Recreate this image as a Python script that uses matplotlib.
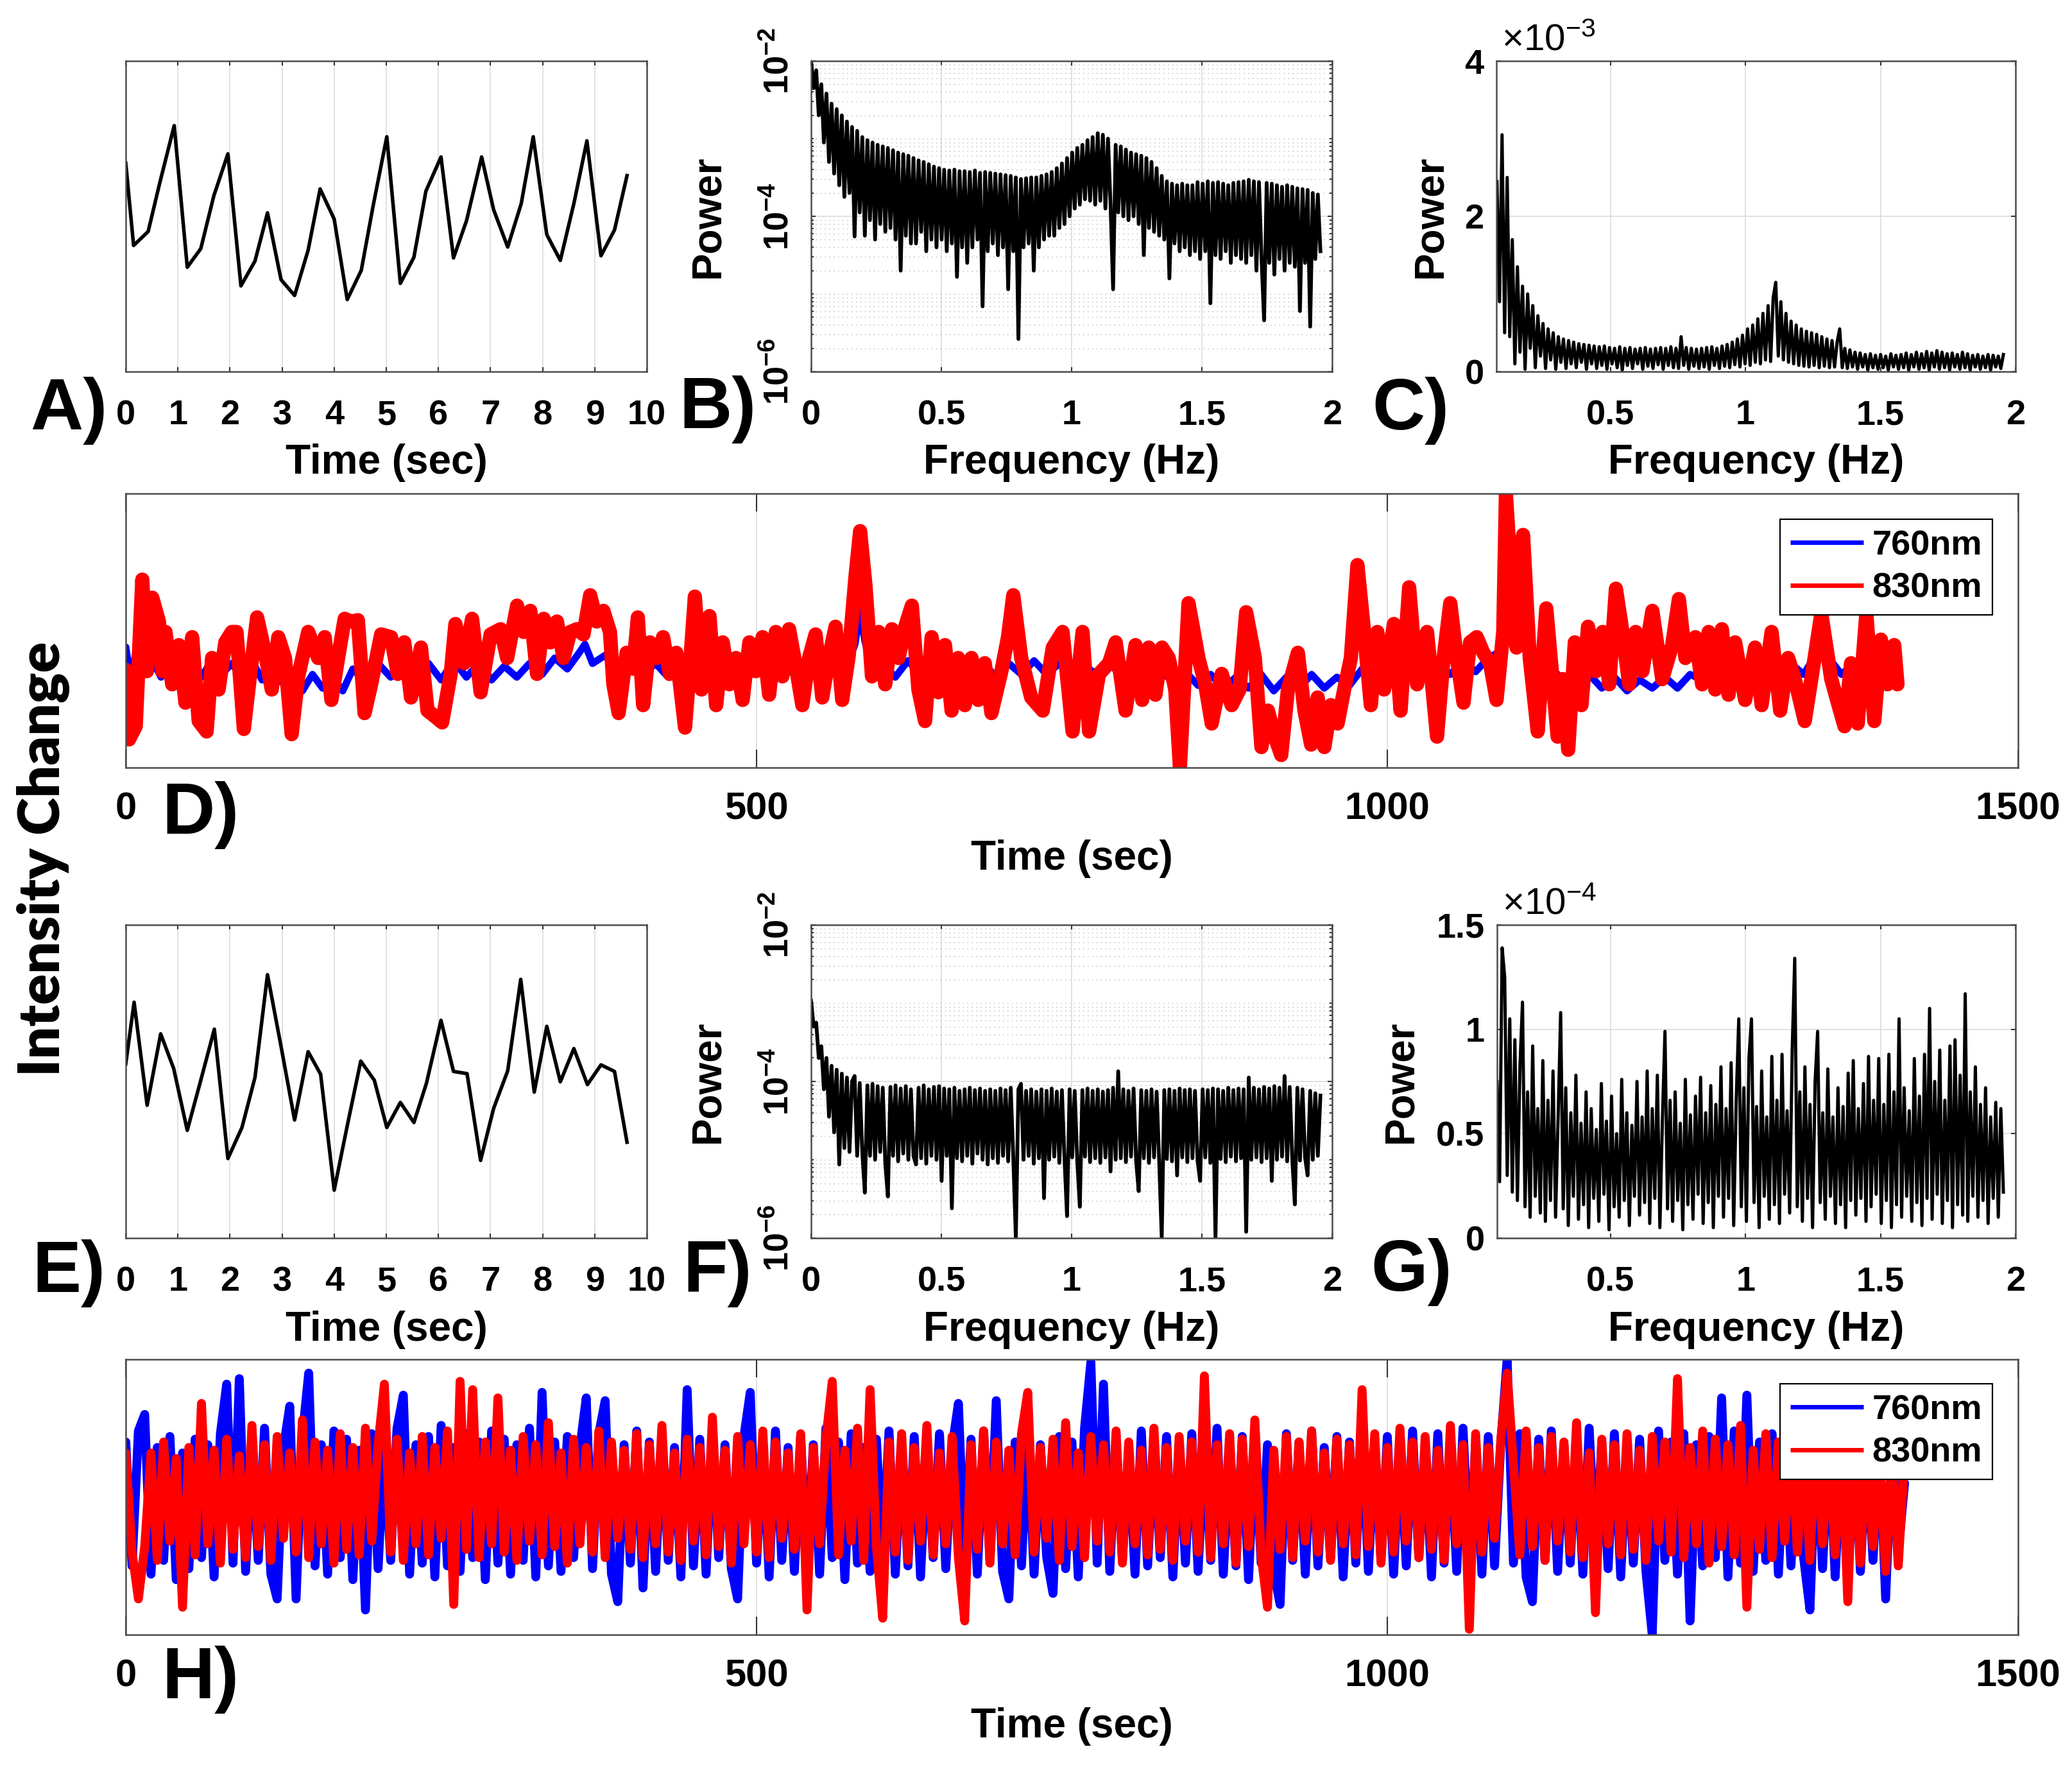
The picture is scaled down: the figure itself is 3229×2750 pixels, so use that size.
import numpy as np
import matplotlib
matplotlib.use('Agg')
import matplotlib.pyplot as plt
from matplotlib.ticker import FixedLocator, FixedFormatter, LogLocator, NullFormatter

plt.rcParams['font.family'] = ['Liberation Sans', 'DejaVu Sans']
plt.rcParams['font.weight'] = 'bold'
plt.rcParams['mathtext.fontset'] = 'custom'
plt.rcParams['mathtext.default'] = 'regular'

# ---- A) / E) short raw segments (normalised intensity) ----
a_time = [0.0, 0.15, 0.43, 0.65, 0.93, 1.18, 1.44, 1.69, 1.96, 2.21, 2.48, 2.72, 2.98,
          3.24, 3.50, 3.73, 4.00, 4.25, 4.52, 4.75, 5.01, 5.27, 5.53, 5.76, 6.05, 6.29,
          6.54, 6.83, 7.06, 7.33, 7.59, 7.82, 8.08, 8.34, 8.60, 8.85, 9.12, 9.38, 9.62]
a_signal = [0.671, 0.406, 0.451, 0.606, 0.792, 0.336, 0.396, 0.566, 0.701, 0.276, 0.356,
            0.511, 0.296, 0.245, 0.391, 0.588, 0.491, 0.232, 0.326, 0.536, 0.756, 0.284,
            0.368, 0.581, 0.691, 0.366, 0.486, 0.691, 0.521, 0.401, 0.541, 0.756, 0.441,
            0.358, 0.541, 0.743, 0.373, 0.456, 0.631]
e_time = [0.0, 0.16, 0.41, 0.67, 0.92, 1.18, 1.44, 1.70, 1.96, 2.23, 2.48, 2.72, 2.98,
          3.24, 3.50, 3.74, 4.00, 4.25, 4.51, 4.77, 5.01, 5.27, 5.53, 5.77, 6.05, 6.29,
          6.55, 6.81, 7.06, 7.33, 7.58, 7.84, 8.08, 8.34, 8.60, 8.86, 9.12, 9.38, 9.62]
e_signal = [0.556, 0.753, 0.424, 0.652, 0.541, 0.344, 0.504, 0.667, 0.254, 0.353, 0.513,
            0.841, 0.612, 0.377, 0.595, 0.523, 0.153, 0.358, 0.565, 0.504, 0.353, 0.433,
            0.369, 0.494, 0.695, 0.532, 0.525, 0.248, 0.414, 0.534, 0.826, 0.466, 0.676,
            0.499, 0.605, 0.490, 0.553, 0.532, 0.306]

# ---- B) / F) power spectra, log10(power), 0 - 1.955 Hz ----
b_log_power = [
    -2.00, -2.35, -2.12, -2.70, -2.30, -3.05, -2.42, -3.30, -2.55, -3.45,
    -2.62, -3.60, -2.70, -3.75, -2.78, -3.70, -2.85, -4.26, -2.90, -3.95,
    -2.98, -4.25, -3.02, -4.05, -3.05, -4.30, -3.08, -4.10, -3.10, -4.20,
    -3.12, -4.15, -3.15, -4.30, -3.18, -4.70, -3.20, -4.25, -3.22, -4.35,
    -3.25, -4.35, -3.28, -4.20, -3.30, -4.45, -3.33, -4.30, -3.36, -4.40,
    -3.38, -4.30, -3.40, -4.45, -3.41, -4.35, -3.40, -4.78, -3.42, -4.40,
    -3.42, -4.60, -3.43, -4.40, -3.41, -4.30, -3.44, -5.16, -3.43, -4.45,
    -3.44, -4.35, -3.45, -4.50, -3.46, -4.40, -3.47, -4.94, -3.48, -4.45,
    -3.50, -5.58, -3.52, -4.40, -3.51, -4.35, -3.50, -4.70, -3.50, -4.40,
    -3.48, -4.30, -3.46, -4.25, -3.43, -4.25, -3.38, -4.15, -3.32, -4.10,
    -3.25, -4.00, -3.18, -3.90, -3.12, -3.85, -3.08, -3.78, -3.02, -3.80,
    -2.98, -3.85, -2.93, -3.80, -2.95, -3.90, -3.00, -3.85, -4.94, -3.08,
    -3.95, -3.10, -4.00, -3.14, -4.05, -3.18, -4.00, -3.20, -4.10, -3.22,
    -4.50, -3.25, -4.15, -3.30, -4.20, -3.38, -4.25, -3.48, -4.30, -3.55,
    -4.80, -3.58, -4.35, -3.60, -4.45, -3.58, -4.40, -3.60, -4.50, -3.60,
    -4.45, -3.56, -4.55, -3.58, -4.45, -3.55, -5.12, -3.57, -4.50, -3.56,
    -4.55, -3.58, -4.45, -3.60, -4.60, -3.57, -4.50, -3.56, -4.55, -3.55,
    -4.60, -3.53, -4.50, -3.55, -4.70, -3.56, -4.55, -5.34, -3.57, -4.60,
    -3.58, -4.75, -3.60, -4.55, -3.62, -4.70, -3.60, -4.60, -3.62, -4.65,
    -3.64, -5.22, -3.65, -4.60, -3.66, -5.42, -3.70, -4.55, -3.72, -4.45]
f_log_power = [
    -2.97, -3.30, -3.25, -3.70, -3.55, -4.10, -3.70, -4.45, -3.80, -4.65,
    -3.85, -5.06, -3.90, -4.85, -3.95, -4.90, -4.00, -3.93, -4.95, -4.02,
    -4.90, -5.42, -4.05, -4.95, -4.03, -5.00, -4.06, -4.90, -4.08, -5.05,
    -5.47, -4.07, -4.95, -4.05, -5.02, -4.09, -4.92, -4.06, -5.00, -4.10,
    -4.95, -5.06, -4.08, -4.98, -4.05, -5.05, -4.10, -4.95, -4.07, -5.00,
    -4.06, -5.27, -4.09, -4.95, -4.10, -5.62, -4.08, -4.98, -4.12, -5.02,
    -4.10, -4.95, -4.08, -5.05, -4.11, -4.92, -4.09, -5.00, -4.12, -5.06,
    -4.10, -4.98, -4.12, -5.04, -4.09, -4.95, -4.11, -5.02, -4.08, -4.97,
    -6.00, -4.10, -4.03, -5.00, -4.12, -4.95, -4.10, -5.05, -4.13, -4.98,
    -4.10, -5.49, -4.12, -5.00, -4.09, -4.96, -4.13, -5.04, -4.11, -4.98,
    -5.72, -4.10, -4.97, -4.12, -5.02, -5.60, -4.11, -4.96, -4.09, -5.03,
    -4.12, -4.98, -4.10, -5.04, -4.13, -4.97, -4.11, -5.15, -4.08, -5.00,
    -3.87, -4.98, -4.10, -5.03, -4.12, -4.96, -4.09, -5.02, -5.40, -4.11,
    -4.98, -4.12, -5.04, -4.10, -4.97, -4.13, -5.01, -6.00, -4.11, -4.99,
    -4.10, -5.02, -4.12, -5.20, -4.09, -4.97, -4.11, -5.03, -4.10, -4.98,
    -4.12, -5.01, -5.27, -4.10, -4.97, -4.11, -5.04, -4.09, -6.00, -4.10,
    -4.99, -4.12, -5.03, -4.08, -4.96, -4.11, -5.02, -4.09, -4.98, -4.10,
    -5.92, -3.95, -5.00, -4.08, -4.97, -4.10, -5.03, -4.07, -4.98, -4.09,
    -5.27, -4.06, -5.00, -4.08, -4.96, -3.93, -5.02, -4.07, -4.99, -5.57,
    -4.08, -5.01, -4.10, -4.97, -5.20, -4.12, -5.00, -4.15, -4.95, -4.18]

# ---- C) power x1e-3, G) power x1e-4, 0.08 - 1.955 Hz ----
c_power = [
    2.45, 0.90, 3.05, 0.50, 2.50, 0.45, 1.70, 0.10, 1.35, 0.25,
    1.10, 0.03, 1.00, 0.30, 0.85, 0.05, 0.72, 0.20, 0.62, 0.04,
    0.55, 0.15, 0.50, 0.03, 0.45, 0.12, 0.42, 0.04, 0.40, 0.10,
    0.38, 0.05, 0.36, 0.12, 0.35, 0.03, 0.34, 0.10, 0.33, 0.04,
    0.32, 0.08, 0.33, 0.03, 0.31, 0.10, 0.30, 0.05, 0.32, 0.02,
    0.30, 0.08, 0.31, 0.04, 0.29, 0.10, 0.30, 0.03, 0.31, 0.07,
    0.29, 0.04, 0.30, 0.09, 0.31, 0.03, 0.30, 0.08, 0.32, 0.05,
    0.30, 0.04, 0.45, 0.08, 0.31, 0.03, 0.30, 0.07, 0.29, 0.04,
    0.30, 0.06, 0.31, 0.03, 0.32, 0.08, 0.30, 0.04, 0.33, 0.07,
    0.35, 0.05, 0.38, 0.09, 0.42, 0.06, 0.47, 0.10, 0.55, 0.08,
    0.60, 0.12, 0.68, 0.10, 0.75, 0.15, 0.85, 0.13, 0.95, 1.15,
    0.20, 0.90, 0.15, 0.75, 0.12, 0.65, 0.10, 0.60, 0.08, 0.55,
    0.07, 0.52, 0.06, 0.50, 0.08, 0.48, 0.05, 0.45, 0.07, 0.42,
    0.05, 0.40, 0.06, 0.38, 0.55, 0.05, 0.30, 0.04, 0.28, 0.06,
    0.25, 0.03, 0.24, 0.06, 0.22, 0.02, 0.23, 0.05, 0.21, 0.03,
    0.22, 0.05, 0.20, 0.02, 0.23, 0.06, 0.21, 0.03, 0.22, 0.05,
    0.24, 0.02, 0.22, 0.06, 0.25, 0.03, 0.23, 0.05, 0.26, 0.02,
    0.24, 0.06, 0.27, 0.03, 0.25, 0.05, 0.23, 0.02, 0.24, 0.06,
    0.22, 0.03, 0.25, 0.05, 0.23, 0.02, 0.21, 0.06, 0.22, 0.03,
    0.20, 0.05, 0.22, 0.02, 0.21, 0.06, 0.20, 0.04, 0.22]
g_power = [
    0.75, 0.27, 1.39, 1.25, 0.30, 1.05, 0.22, 0.95, 0.18, 0.82,
    1.13, 0.15, 0.70, 0.10, 0.92, 0.20, 0.62, 0.12, 0.85, 0.08,
    0.66, 0.18, 0.80, 0.10, 0.58, 1.08, 0.14, 0.72, 0.06, 0.60,
    0.20, 0.78, 0.09, 0.55, 0.16, 0.70, 0.05, 0.62, 0.19, 0.52,
    0.08, 0.74, 0.21, 0.56, 0.04, 0.68, 0.15, 0.50, 0.10, 0.76,
    0.18, 0.60, 0.06, 0.54, 0.20, 0.75, 0.11, 0.58, 0.17, 0.80,
    0.07, 0.62, 0.19, 0.78, 0.05, 0.57, 0.99, 0.14, 0.66, 0.08,
    0.70, 0.18, 0.55, 0.04, 0.76, 0.16, 0.59, 0.09, 0.68, 0.21,
    0.77, 0.07, 0.60, 0.17, 0.73, 0.05, 0.64, 0.20, 0.82, 0.10,
    0.62, 0.19, 0.84, 0.06, 0.66, 1.05, 0.15, 0.72, 0.08, 0.86,
    1.05, 0.17, 0.63, 0.05, 0.80, 0.20, 0.58, 0.09, 0.87, 0.16,
    0.66, 0.07, 0.88, 0.21, 0.61, 0.12, 0.90, 1.34, 0.15, 0.70,
    0.08, 0.82, 0.19, 0.64, 0.05, 0.75, 0.99, 0.17, 0.60, 0.09,
    0.81, 0.20, 0.58, 0.07, 0.72, 0.16, 0.63, 0.05, 0.79, 0.18,
    0.85, 0.11, 0.62, 0.19, 0.74, 0.08, 0.87, 0.15, 0.66, 0.21,
    0.86, 0.07, 0.64, 0.18, 0.88, 0.05, 0.70, 0.16, 1.05, 0.10,
    0.72, 0.20, 0.61, 0.08, 0.86, 0.17, 0.68, 0.06, 0.88, 0.19,
    1.10, 0.09, 0.75, 0.21, 0.90, 0.07, 0.66, 0.18, 0.92, 0.05,
    0.95, 0.16, 0.78, 0.11, 1.17, 0.08, 0.70, 0.20, 0.82, 0.10,
    0.64, 0.18, 0.72, 0.07, 0.58, 0.19, 0.65, 0.10, 0.62, 0.22]

# ---- D) long recording, normalised intensity ----
d_t830 = [0.0, 2.6, 7.9, 13.1, 16.8, 21.0, 26.3, 28.9, 31.5, 36.8,
          42.1, 47.3, 52.6, 57.8, 64.1, 68.4, 73.6, 78.9, 84.1, 87.8,
          93.6, 98.9, 104.1, 110.4, 115.7, 120.9, 126.2, 131.5, 136.7, 144.6,
          152.5, 157.7, 163.0, 168.3, 173.5, 178.8, 184.0, 189.3, 194.5, 202.4,
          210.3, 215.6, 220.8, 226.1, 234.0, 239.2, 244.5, 250.8, 257.6, 261.3,
          268.2, 274.5, 281.3, 289.2, 297.1, 302.3, 310.2, 315.5, 320.7, 326.0,
          331.3, 336.5, 341.8, 347.0, 352.3, 357.5, 362.8, 368.1, 373.3, 378.6,
          383.8, 386.5, 390.7, 397.0, 402.2, 405.9, 410.1, 415.4, 420.6, 425.9,
          431.2, 436.4, 443.3, 446.9, 451.1, 456.4, 462.7, 468.0, 473.2, 478.5,
          483.7, 489.0, 494.3, 499.5, 504.8, 510.0, 515.3, 520.5, 525.8, 531.1,
          536.3, 541.6, 546.8, 552.1, 557.3, 562.6, 567.9, 573.1, 578.4, 582.1,
          586.3, 591.5, 596.8, 602.0, 607.3, 612.6, 617.8, 623.1, 628.3, 633.6,
          638.8, 644.1, 649.4, 654.6, 659.9, 665.1, 670.4, 675.7, 680.9, 686.2,
          694.1, 699.3, 703.5, 709.8, 717.7, 726.9, 734.8, 742.6, 750.5, 758.4,
          763.6, 771.5, 779.4, 784.7, 792.5, 800.4, 805.7, 810.9, 816.2, 821.4,
          826.7, 831.9, 835.6, 842.4, 850.3, 855.6, 860.8, 868.7, 876.6, 882.9,
          888.1, 895.0, 900.2, 905.4, 910.7, 915.9, 921.2, 929.1, 934.3, 939.6,
          944.8, 950.1, 955.3, 960.6, 965.8, 971.1, 976.3, 981.6, 986.9, 992.1,
          997.4, 1005.2, 1010.5, 1017.3, 1023.6, 1031.5, 1039.4, 1044.6, 1049.9, 1055.1,
          1060.4, 1065.6, 1070.9, 1076.1, 1081.4, 1086.6, 1091.9, 1094.0, 1098.2, 1102.4,
          1107.6, 1112.9, 1119.2, 1126.0, 1131.3, 1135.0, 1139.2, 1143.4, 1148.6, 1153.9,
          1159.1, 1165.4, 1170.7, 1175.9, 1181.2, 1186.4, 1191.7, 1196.9, 1202.2, 1210.1,
          1217.9, 1225.8, 1231.1, 1236.3, 1244.2, 1249.5, 1254.7, 1260.0, 1265.2, 1270.5,
          1275.7, 1283.6, 1291.5, 1296.7, 1304.6, 1311.4, 1317.7, 1323.0, 1330.9, 1338.7,
          1344.0, 1351.9, 1357.1, 1362.4, 1367.6, 1372.9, 1379.7, 1386.0, 1391.3, 1396.5,
          1401.8, 1404.4]
d_830 = [0.357, 0.103, 0.151, 0.686, 0.352, 0.620, 0.533, 0.352, 0.495, 0.304,
         0.447, 0.237, 0.476, 0.170, 0.132, 0.400, 0.285, 0.457, 0.495, 0.495,
         0.141, 0.352, 0.548, 0.419, 0.285, 0.476, 0.400, 0.122, 0.333, 0.495,
         0.400, 0.476, 0.247, 0.400, 0.543, 0.533, 0.538, 0.199, 0.304, 0.486,
         0.476, 0.342, 0.457, 0.256, 0.438, 0.208, 0.189, 0.165, 0.342, 0.524,
         0.381, 0.543, 0.275, 0.486, 0.505, 0.400, 0.591, 0.495, 0.572, 0.342,
         0.543, 0.457, 0.533, 0.400, 0.495, 0.505, 0.486, 0.629, 0.533, 0.572,
         0.495, 0.304, 0.199, 0.419, 0.361, 0.548, 0.228, 0.457, 0.400, 0.476,
         0.342, 0.419, 0.146, 0.352, 0.624, 0.285, 0.553, 0.228, 0.457, 0.304,
         0.400, 0.247, 0.457, 0.352, 0.476, 0.266, 0.495, 0.333, 0.505, 0.371,
         0.228, 0.400, 0.486, 0.256, 0.400, 0.514, 0.247, 0.409, 0.696, 0.863,
         0.667, 0.333, 0.495, 0.304, 0.505, 0.400, 0.514, 0.591, 0.285, 0.170,
         0.476, 0.275, 0.447, 0.208, 0.400, 0.228, 0.400, 0.247, 0.381, 0.199,
         0.352, 0.476, 0.629, 0.400, 0.256, 0.208, 0.438, 0.495, 0.132, 0.495,
         0.132, 0.342, 0.381, 0.457, 0.208, 0.447, 0.247, 0.438, 0.266, 0.438,
         0.400, 0.285, 0.000, 0.600, 0.400, 0.304, 0.161, 0.342, 0.228, 0.285,
         0.567, 0.400, 0.075, 0.208, 0.113, 0.046, 0.285, 0.419, 0.208, 0.084,
         0.256, 0.075, 0.228, 0.161, 0.285, 0.400, 0.739, 0.495, 0.228, 0.495,
         0.285, 0.524, 0.208, 0.658, 0.304, 0.495, 0.113, 0.400, 0.600, 0.400,
         0.237, 0.457, 0.476, 0.419, 0.381, 0.247, 0.495, 1.000, 0.686, 0.438,
         0.849, 0.400, 0.132, 0.581, 0.304, 0.113, 0.323, 0.065, 0.457, 0.228,
         0.514, 0.352, 0.495, 0.304, 0.653, 0.495, 0.304, 0.495, 0.352, 0.572,
         0.323, 0.447, 0.615, 0.400, 0.476, 0.304, 0.495, 0.285, 0.505, 0.266,
         0.457, 0.247, 0.438, 0.228, 0.495, 0.208, 0.400, 0.323, 0.170, 0.400,
         0.562, 0.323, 0.237, 0.151, 0.381, 0.161, 0.562, 0.170, 0.467, 0.304,
         0.447, 0.304]
d_t760 = [0, 4, 8, 14, 20, 28, 36, 44, 52, 60,
          68, 76, 84, 92, 100, 108, 116, 124, 132, 140,
          148, 156, 164, 172, 180, 190, 200, 210, 220, 230,
          240, 250, 260, 270, 280, 290, 300, 310, 320, 330,
          340, 350, 358, 364, 370, 380, 390, 400, 410, 420,
          430, 440, 450, 460, 470, 480, 490, 500, 510, 520,
          530, 540, 550, 560, 570, 578, 582, 586, 592, 600,
          610, 620, 630, 640, 650, 660, 670, 680, 690, 700,
          710, 720, 730, 740, 750, 760, 770, 780, 790, 800,
          810, 820, 830, 840, 850, 860, 870, 880, 890, 900,
          910, 920, 930, 940, 950, 960, 970, 980, 990, 1000,
          1010, 1020, 1030, 1040, 1050, 1060, 1070, 1080, 1088, 1094,
          1100, 1108, 1114, 1120, 1130, 1140, 1150, 1160, 1170, 1180,
          1190, 1200, 1210, 1220, 1230, 1240, 1250, 1260, 1270, 1280,
          1290, 1300, 1310, 1320, 1330, 1338, 1344, 1350, 1360, 1370,
          1380, 1390, 1398, 1404]
d_760 = [0.44, 0.32, 0.42, 0.34, 0.40, 0.33, 0.41, 0.34, 0.40, 0.33,
         0.39, 0.34, 0.38, 0.33, 0.39, 0.32, 0.37, 0.31, 0.35, 0.28,
         0.34, 0.29, 0.33, 0.28, 0.36, 0.31, 0.38, 0.33, 0.39, 0.33,
         0.38, 0.32, 0.39, 0.33, 0.38, 0.32, 0.37, 0.33, 0.38, 0.34,
         0.40, 0.36, 0.41, 0.45, 0.38, 0.41, 0.35, 0.39, 0.34, 0.38,
         0.33, 0.38, 0.34, 0.39, 0.33, 0.38, 0.34, 0.39, 0.33, 0.38,
         0.34, 0.39, 0.33, 0.38, 0.35, 0.45, 0.57, 0.46, 0.34, 0.38,
         0.33, 0.39, 0.34, 0.38, 0.33, 0.39, 0.34, 0.38, 0.33, 0.38,
         0.34, 0.39, 0.34, 0.38, 0.33, 0.37, 0.34, 0.38, 0.33, 0.37,
         0.33, 0.36, 0.31, 0.35, 0.30, 0.34, 0.29, 0.33, 0.29, 0.34,
         0.28, 0.33, 0.29, 0.34, 0.29, 0.33, 0.30, 0.36, 0.32, 0.38,
         0.34, 0.39, 0.34, 0.38, 0.34, 0.39, 0.35, 0.40, 0.42, 0.62,
         0.46, 0.55, 0.43, 0.40, 0.36, 0.32, 0.30, 0.34, 0.29, 0.33,
         0.28, 0.32, 0.29, 0.33, 0.29, 0.34, 0.32, 0.37, 0.33, 0.38,
         0.33, 0.37, 0.33, 0.38, 0.34, 0.40, 0.52, 0.40, 0.34, 0.38,
         0.33, 0.37, 0.34, 0.40]

# ---- H) long recording, second subject (5 s steps, 0 - 1410 s) ----
h_760 = [
    0.70, 0.25, 0.74, 0.80, 0.22, 0.68, 0.27, 0.72, 0.20, 0.66, 0.24, 0.71, 0.28, 0.69, 0.21, 0.73, 0.91, 0.26, 0.93, 0.23,
    0.70, 0.27, 0.75, 0.22, 0.13, 0.68, 0.83, 0.13, 0.72, 0.95, 0.25, 0.69, 0.22, 0.74, 0.28, 0.71, 0.20, 0.67, 0.09, 0.73,
    0.24, 0.70, 0.27, 0.75, 0.87, 0.22, 0.69, 0.26, 0.72, 0.21, 0.76, 0.25, 0.68, 0.23, 0.73, 0.28, 0.70, 0.20, 0.74, 0.26,
    0.71, 0.22, 0.69, 0.27, 0.75, 0.21, 0.88, 0.25, 0.70, 0.23, 0.72, 0.28, 0.68, 0.86, 0.24, 0.73, 0.85, 0.22, 0.12, 0.69,
    0.26, 0.74, 0.17, 0.70, 0.23, 0.72, 0.27, 0.68, 0.21, 0.89, 0.25, 0.71, 0.22, 0.75, 0.28, 0.69, 0.24, 0.13, 0.72, 0.88,
    0.26, 0.70, 0.21, 0.74, 0.27, 0.68, 0.23, 0.72, 0.25, 0.69, 0.22, 0.75, 0.28, 0.70, 0.20, 0.73, 0.26, 0.68, 0.23, 0.71,
    0.27, 0.74, 0.22, 0.69, 0.25, 0.72, 0.21, 0.70, 0.28, 0.73, 0.24, 0.68, 0.84, 0.26, 0.71, 0.22, 0.74, 0.27, 0.85, 0.23,
    0.13, 0.70, 0.25, 0.73, 0.22, 0.69, 0.28, 0.15, 0.72, 0.24, 0.70, 0.21, 0.75, 0.99, 0.26, 0.91, 0.23, 0.71, 0.27, 0.68,
    0.22, 0.74, 0.25, 0.70, 0.28, 0.72, 0.21, 0.69, 0.26, 0.73, 0.23, 0.70, 0.27, 0.75, 0.22, 0.68, 0.25, 0.72, 0.20, 0.71,
    0.26, 0.69, 0.23, 0.11, 0.73, 0.27, 0.70, 0.22, 0.74, 0.25, 0.68, 0.28, 0.72, 0.21, 0.70, 0.26, 0.75, 0.23, 0.69, 0.27,
    0.72, 0.22, 0.70, 0.25, 0.74, 0.28, 0.68, 0.21, 0.73, 0.26, 0.71, 0.23, 0.75, 0.27, 0.69, 0.22, 0.72, 0.25, 0.70, 1.00,
    0.26, 0.73, 0.21, 0.12, 0.71, 0.27, 0.74, 0.23, 0.69, 0.26, 0.72, 0.22, 0.75, 0.28, 0.70, 0.24, 0.73, 0.21, 0.68, 0.26,
    0.71, 0.23, 0.00, 0.74, 0.27, 0.70, 0.22, 0.73, 0.05, 0.69, 0.25, 0.72, 0.28, 0.86, 0.21, 0.74, 0.26, 0.87, 0.23, 0.70,
    0.27, 0.73, 0.22, 0.69, 0.25, 0.74, 0.28, 0.09, 0.71, 0.24, 0.72, 0.21, 0.70, 0.26, 0.75, 0.23, 0.68, 0.27, 0.72, 0.13,
    0.70, 0.30, 0.55]
h_830 = [
    0.66, 0.30, 0.13, 0.32, 0.66, 0.27, 0.70, 0.34, 0.64, 0.10, 0.68, 0.29, 0.84, 0.33, 0.67, 0.26, 0.71, 0.31, 0.65, 0.28,
    0.76, 0.32, 0.69, 0.27, 0.72, 0.35, 0.66, 0.30, 0.78, 0.28, 0.70, 0.33, 0.67, 0.26, 0.73, 0.31, 0.68, 0.29, 0.75, 0.34,
    0.69, 0.91, 0.30, 0.71, 0.27, 0.66, 0.33, 0.72, 0.29, 0.68, 0.35, 0.74, 0.11, 0.92, 0.31, 0.89, 0.28, 0.70, 0.33, 0.86,
    0.30, 0.67, 0.27, 0.72, 0.34, 0.69, 0.29, 0.77, 0.32, 0.66, 0.26, 0.71, 0.33, 0.68, 0.30, 0.74, 0.28, 0.70, 0.35, 0.67,
    0.31, 0.73, 0.28, 0.69, 0.33, 0.76, 0.30, 0.66, 0.27, 0.71, 0.34, 0.68, 0.29, 0.79, 0.32, 0.67, 0.26, 0.72, 0.33, 0.69,
    0.30, 0.74, 0.28, 0.70, 0.35, 0.66, 0.31, 0.73, 0.09, 0.68, 0.33, 0.71, 0.92, 0.29, 0.67, 0.34, 0.75, 0.27, 0.89, 0.32,
    0.06, 0.70, 0.30, 0.73, 0.27, 0.68, 0.34, 0.76, 0.29, 0.66, 0.33, 0.72, 0.28, 0.05, 0.69, 0.31, 0.74, 0.26, 0.70, 0.33,
    0.67, 0.29, 0.73, 0.88, 0.30, 0.68, 0.35, 0.71, 0.27, 0.77, 0.32, 0.66, 0.28, 0.72, 0.34, 0.69, 0.30, 0.74, 0.26, 0.70,
    0.33, 0.67, 0.29, 0.75, 0.31, 0.68, 0.27, 0.72, 0.34, 0.70, 0.30, 0.94, 0.28, 0.69, 0.33, 0.73, 0.26, 0.71, 0.32, 0.78,
    0.29, 0.10, 0.67, 0.31, 0.72, 0.28, 0.70, 0.34, 0.74, 0.30, 0.66, 0.27, 0.71, 0.33, 0.69, 0.29, 0.89, 0.32, 0.73, 0.26,
    0.68, 0.30, 0.75, 0.34, 0.70, 0.28, 0.72, 0.31, 0.67, 0.27, 0.76, 0.33, 0.69, 0.02, 0.73, 0.30, 0.68, 0.35, 0.71, 0.95,
    0.62, 0.29, 0.74, 0.32, 0.68, 0.27, 0.72, 0.34, 0.70, 0.30, 0.77, 0.28, 0.66, 0.08, 0.71, 0.33, 0.69, 0.29, 0.73, 0.31,
    0.67, 0.27, 0.72, 0.34, 0.70, 0.30, 0.93, 0.28, 0.68, 0.33, 0.74, 0.26, 0.71, 0.32, 0.69, 0.29, 0.76, 0.10, 0.67, 0.31,
    0.73, 0.28, 0.70, 0.34, 0.72, 0.30, 0.68, 0.27, 0.74, 0.33, 0.69, 0.29, 0.71, 0.12, 0.75, 0.26, 0.70, 0.32, 0.66, 0.23,
    0.68, 0.25, 0.64]

SPINE = '0.3'
W, H = 3229, 2750
fig = plt.figure(figsize=(W / 100, H / 100), dpi=100)


def add_axes(x0, y0, x1, y1):
    # pixel box (from top-left) -> figure fraction
    return fig.add_axes([x0 / W, 1 - y1 / H, (x1 - x0) / W, (y1 - y0) / H])


def style(ax, tlen=5, lsize=39, xpad=31, ypad=15):
    for s in ax.spines.values():
        s.set_color(SPINE)
        s.set_linewidth(1.8)
    ax.tick_params(which='both', direction='in', top=True, right=True,
                   color='0.2', width=1.5, length=tlen, labelsize=lsize)
    ax.tick_params(which='minor', length=tlen * 0.55)
    ax.tick_params(axis='x', pad=xpad)
    ax.tick_params(axis='y', pad=ypad)
    ax.set_axisbelow(True)


def xlabel(ax, text, y):
    ax.set_xlabel(text, fontsize=46, fontweight='bold')
    ax.xaxis.set_label_coords(0.5, y)
    ax.xaxis.label.set_va('center')


def ylabel(ax, x):
    ax.set_ylabel('Power', fontsize=46, fontweight='bold')
    ax.yaxis.set_label_coords(x, 0.5)
    ax.yaxis.label.set_va('center')


freq_ticks = [0, 0.5, 1, 1.5, 2]
freq_labels = ['0', '0.5', '1', '1.5', '2']


def short_panel(box, t, y):
    ax = add_axes(*box)
    ax.plot(t, y, color='black', lw=4)
    ax.set_xlim(0, 10)
    ax.set_ylim(0, 1)
    ax.set_xticks(range(11))
    ax.set_yticks([])
    ax.grid(axis='x', color='0.86', lw=1.2)
    style(ax)
    xlabel(ax, 'Time (sec)', -0.293)
    return ax


def log_panel(box, logp):
    ax = add_axes(*box)
    fr = np.linspace(0, 1.955, len(logp))
    ax.semilogy(fr, 10.0 ** np.array(logp), color='black', lw=4.2,
                solid_joinstyle='round')
    ax.set_xlim(0, 2)
    ax.set_ylim(1e-6, 1e-2)
    ax.set_xticks(freq_ticks)
    ax.set_xticklabels(freq_labels)
    ax.yaxis.set_major_locator(FixedLocator([1e-6, 1e-4, 1e-2]))
    ax.yaxis.set_major_formatter(FixedFormatter([r'$10^{-6}$', r'$10^{-4}$', r'$10^{-2}$']))
    ax.yaxis.set_minor_locator(LogLocator(base=10, subs=np.arange(1, 10), numticks=30))
    ax.yaxis.set_minor_formatter(NullFormatter())
    ax.grid(which='major', color='0.86', lw=1.2)
    ax.grid(which='minor', axis='y', color='0.7', lw=1.0, linestyle=(0, (1, 4)))
    style(ax, ypad=18)
    ax.tick_params(axis='y', labelrotation=90)
    xlabel(ax, 'Frequency (Hz)', -0.293)
    ylabel(ax, -0.198)
    return ax


def lin_panel(box, p, xlo, ymax, yticks, ylabels, expo, ylab_x):
    ax = add_axes(*box)
    fr = np.linspace(0.08, 1.955, len(p))
    ax.plot(fr, p, color='black', lw=3.6, solid_joinstyle='round')
    ax.set_xlim(xlo, 2)
    ax.set_ylim(0, ymax)
    ax.set_xticks(freq_ticks[1:])
    ax.set_xticklabels(freq_labels[1:])
    ax.set_yticks(yticks)
    ax.set_yticklabels(ylabels)
    ax.grid(color='0.86', lw=1.2)
    style(ax, ypad=14)
    ax.text(0.01, 1.035, expo, transform=ax.transAxes, fontsize=42,
            fontweight='normal', va='baseline', ha='left')
    xlabel(ax, 'Frequency (Hz)', -0.293)
    ylabel(ax, ylab_x)
    return ax


def long_panel(box, t760, y760, t830, y830, lw760, lw830, legend_top):
    ax = add_axes(*box)
    kw = dict(solid_joinstyle='round', solid_capstyle='round')
    ax.plot(t760, y760, color='#0000ff', lw=lw760, label='760nm', **kw)
    ax.plot(t830, y830, color='#ff0000', lw=lw830, label='830nm', **kw)
    ax.set_xlim(0, 1500)
    ax.set_ylim(0, 1)
    ax.set_xticks([0, 500, 1000, 1500])
    ax.set_yticks([])
    ax.grid(axis='x', color='0.86', lw=1.2)
    style(ax, tlen=20, lsize=43, xpad=27)
    leg = ax.legend(loc='upper right', bbox_to_anchor=(0.9864, legend_top), fontsize=39,
                    fancybox=False, edgecolor='black', framealpha=1, borderaxespad=0,
                    handlelength=2.1, handletextpad=0.25, labelspacing=0.3, borderpad=0.3)
    leg.get_frame().set_linewidth(1.6)
    for ln in leg.get_lines():
        ln.set_linewidth(5)
        ln.set_solid_capstyle('butt')
    xlabel(ax, 'Time (sec)', -0.333)
    return ax


short_panel((196, 95, 1008, 579), a_time, a_signal)
axB = log_panel((1264, 95, 2076, 579), b_log_power)
lin_panel((2332, 95, 3141, 579), c_power, 0.078, 4, [0, 2, 4], ['0', '2', '4'],
          r'×10$^{-3}$', -0.127)
long_panel((196, 769, 3145, 1196), d_t760, d_760, d_t830, d_830, 8, 16, 0.906)

short_panel((196, 1441, 1008, 1929), e_time, e_signal)
axF = log_panel((1264, 1441, 2076, 1929), f_log_power)
lin_panel((2333, 1441, 3141, 1929), g_power, 0.08, 1.5, [0, 0.5, 1, 1.5],
          ['0', '0.5', '1', '1.5'], r'×10$^{-4}$', -0.185)
h_time760 = np.linspace(0, 1410, len(h_760))
h_time830 = np.linspace(0, 1410, len(h_830))
long_panel((196, 2118, 3145, 2547), h_time760, h_760, h_time830, h_830, 10, 10, 0.911)

# panel letters
for letter, x, y in [('A)', 107, 669), ('B)', 1118, 667), ('C)', 2198, 669),
                     ('D)', 312, 1299), ('E)', 107, 2013), ('F)', 1118, 2013),
                     ('G)', 2200, 2011), ('H)', 312, 2646)]:
    fig.text(x / W, 1 - y / H, letter, fontsize=82, fontweight='bold',
             ha='center', va='baseline')

fig.text(68 / W, 1 - 1338 / H, 'Intensity Change', rotation=90, fontsize=64,
         family=['Lato', 'DejaVu Sans'], fontweight='heavy', ha='center', va='center')

fig.canvas.draw()
for ax in (axB, axF):
    for tk in ax.yaxis.get_major_ticks():
        tk.label1.set_va('center')

fig.savefig('out.png', dpi=100, facecolor='white')
